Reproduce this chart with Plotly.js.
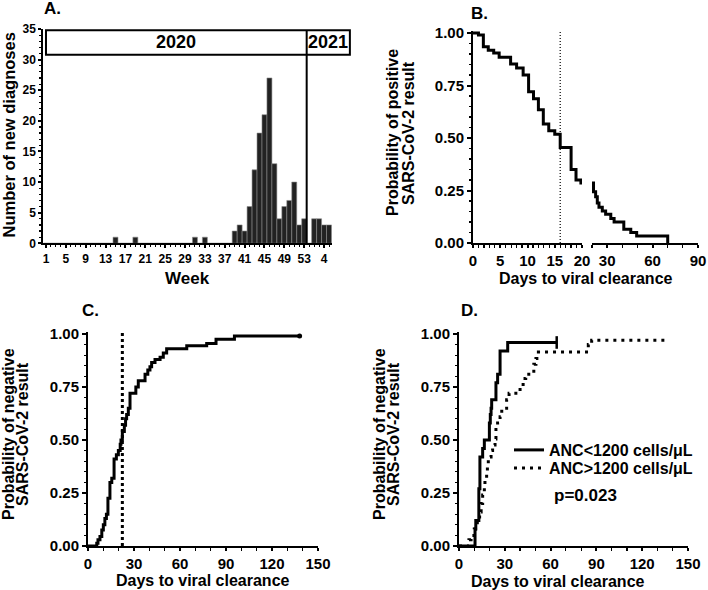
<!DOCTYPE html>
<html><head><meta charset="utf-8">
<script src="https://cdn.plot.ly/plotly-3.0.1.min.js"></script>
<style>html,body{margin:0;padding:0;background:#fff}#chart{width:708px;height:590px}</style>
</head><body><div id="chart"></div>
<script>
// ---------- Panel A: weekly new diagnoses ----------
const weekPos = [1,2,3,4,5,6,7,8,9,10,11,12,13,14,15,16,17,18,19,20,21,22,23,24,25,26,27,28,29,30,31,32,33,34,35,36,37,38,39,40,41,42,43,44,45,46,47,48,49,50,51,52,53,54,55,56,57,58];
const weekCounts = [0,0,0,0,0,0,0,0,0,0,0,0,0,0,1,0,0,0,1,0,0,0,0,0,0,0,0,0,0,0,1,0,1,0,0,0,0,0,2,3,2,6,12,18,21,27,13,4,6,7,10,3,4,0,4,4,3,3];
const weekTickPos = [1,5,9,13,17,21,25,29,33,37,41,45,49,53,57];
const weekTickText = ['1','5','9','13','17','21','25','29','33','37','41','45','49','53','4'];
const yearLabels = ['2020','2021'];
const yearBreak = 53.5;

// ---------- Panel B: probability of positive result ----------
const daysB = [0,1.0,1.9,2.8,3.8,4.8,6.9,8.0,9.2,10.2,11.1,12.0,12.9,13.9,15.0,16.0,18.0,18.9,19.8,21,22.4,23.5,24.6,26.8,29,32.4,34.6,41,45.6,49.5,70];
const probPosB = [1.00,0.99,0.935,0.918,0.905,0.885,0.852,0.833,0.80,0.72,0.687,0.635,0.567,0.535,0.518,0.455,0.35,0.30,0.286,0.244,0.22,0.19,0.17,0.152,0.137,0.117,0.10,0.065,0.05,0.033,0];
const medianB = 16;
const breakB = 20;

// ---------- Panel C: probability of negative result ----------
const daysC = [0,5.7,6.5,7.8,9,10,11,12,13,14.3,15.5,17,18.5,19.8,21,21.5,22.4,23.7,24.5,25.2,26.3,27.4,31.2,32.8,37.2,39,40.4,41.5,43.7,47,49.1,51.3,64.4,77.4,83.5,95.5,138];
const probNegC = [0,0.013,0.03,0.045,0.075,0.10,0.13,0.15,0.225,0.30,0.32,0.41,0.43,0.45,0.48,0.50,0.54,0.57,0.60,0.62,0.65,0.72,0.75,0.78,0.81,0.83,0.845,0.865,0.88,0.89,0.91,0.93,0.945,0.955,0.975,0.99,0.99];
const medianC = 22.4;
const censorC = [138];
const censorCval = [0.99];

// ---------- Panel D: by ANC ----------
const groupNames = ['ANC<1200 cells/\u03bcL','ANC>1200 cells/\u03bcL'];
const daysD1 = [0,10.5,11,13,13.7,15.5,16.6,19.9,20.5,21,21.4,24.2,25.3,26.9,31.9,64];
const probNegD1 = [0,0.08,0.12,0.27,0.42,0.46,0.50,0.58,0.62,0.65,0.69,0.77,0.81,0.92,0.96,0.96];
const daysD2 = [0,6.5,7.9,10,12,13.5,14.5,15.5,16.6,17,18.1,18.6,19.2,21,22,23.6,24.2,25.3,26.9,28,31.2,32.8,40,42,43.7,49,50.4,52,84.7,86.9,137];
const probNegD2 = [0,0.03,0.05,0.08,0.12,0.16,0.20,0.24,0.275,0.32,0.355,0.39,0.42,0.45,0.476,0.505,0.55,0.58,0.61,0.65,0.69,0.72,0.75,0.79,0.81,0.857,0.885,0.915,0.95,0.97,0.97];
const censorD1 = [64];
const censorD1val = [0.96];
const pValueText = 'p=0.023';

// ---------- layout helpers ----------
const W = 708, H = 590;
const px = x => x / W;
const py = y => 1 - y / H;
const FONT = 'Liberation Sans, Arial, Helvetica, sans-serif';
const bold = (s, extra) => Object.assign({family: FONT, size: s, color: '#000', weight: 'bold'}, extra || {});

const domAx = [px(43.3), px(332)], domAy = [py(243.3), py(29)];
const rangeAx = [0.46, 58.6], rangeAy = [0, 35];
const aX = v => domAx[0] + (v - rangeAx[0]) / (rangeAx[1] - rangeAx[0]) * (domAx[1] - domAx[0]);
const aY = v => domAy[0] + (v - rangeAy[0]) / (rangeAy[1] - rangeAy[0]) * (domAy[1] - domAy[0]);

function splitAt(xs, ys, cut) {
  const s1x = [], s1y = [], s2x = [], s2y = [];
  let last = ys[0];
  for (let i = 0; i < xs.length; i++) {
    if (xs[i] <= cut) { s1x.push(xs[i]); s1y.push(ys[i]); last = ys[i]; }
  }
  s1x.push(cut); s1y.push(last);
  s2x.push(cut); s2y.push(last);
  for (let i = 0; i < xs.length; i++) {
    if (xs[i] > cut) { s2x.push(xs[i]); s2y.push(ys[i]); }
  }
  return [s1x, s1y, s2x, s2y];
}
const [b1x, b1y, b2x, b2y] = splitAt(daysB, probPosB, breakB);

const lineK = {color: '#000', width: 3, shape: 'hv'};

const traces = [
  {type: 'bar', x: weekPos, y: weekCounts, width: 1, xaxis: 'x', yaxis: 'y',
   marker: {color: '#222', line: {color: '#8a8a8a', width: 0.6}}, showlegend: false, hoverinfo: 'skip'},
  {type: 'scatter', mode: 'lines', x: b1x, y: b1y, xaxis: 'x2', yaxis: 'y2', line: lineK, showlegend: false},
  {type: 'scatter', mode: 'lines', x: b2x, y: b2y, xaxis: 'x3', yaxis: 'y2', line: lineK, showlegend: false},
  {type: 'scatter', mode: 'lines', x: [medianB, medianB], y: [0, 1.01], xaxis: 'x2', yaxis: 'y2',
   line: {color: '#000', width: 1.2, dash: '1px,2px'}, showlegend: false},
  {type: 'scatter', mode: 'lines', x: daysC, y: probNegC, xaxis: 'x4', yaxis: 'y4', line: lineK, showlegend: false},
  {type: 'scatter', mode: 'markers', x: censorC, y: censorCval, xaxis: 'x4', yaxis: 'y4',
   marker: {symbol: 'circle', size: 5, color: '#000'}, showlegend: false},
  {type: 'scatter', mode: 'lines', x: [medianC, medianC], y: [0, 1.01], xaxis: 'x4', yaxis: 'y4',
   line: {color: '#000', width: 3, dash: '3px,3px'}, showlegend: false},
  {type: 'scatter', mode: 'lines', name: groupNames[0], x: daysD1, y: probNegD1, xaxis: 'x5', yaxis: 'y5',
   line: lineK, showlegend: true, legend: 'legend'},
  {type: 'scatter', mode: 'lines', name: groupNames[1], x: daysD2, y: probNegD2, xaxis: 'x5', yaxis: 'y5',
   line: {color: '#000', width: 3, shape: 'hv', dash: '3px,5px'}, showlegend: true, legend: 'legend2'},
  {type: 'scatter', mode: 'markers', x: censorD1, y: censorD1val, xaxis: 'x5', yaxis: 'y5',
   marker: {symbol: 'line-ns-open', size: 9, color: '#000', line: {color: '#000', width: 2.5}}, showlegend: false}
];

const axBase = {showline: true, linecolor: '#000', linewidth: 2, ticks: 'outside', ticklen: 4, tickwidth: 2,
  tickcolor: '#000', showgrid: false, zeroline: false, fixedrange: true};
const minorB = (d, t0) => ({dtick: d, tick0: t0 || 0, ticklen: 2.5, tickwidth: 1.2, tickcolor: '#000', showgrid: false});
const probY = (dom, anchor) => Object.assign({}, axBase, {domain: dom, anchor: anchor, range: [0, 1.01],
  tickmode: 'array', tickvals: [0, 0.25, 0.5, 0.75, 1], ticktext: ['0.00','0.25','0.50','0.75','1.00'],
  tickfont: bold(15), minor: minorB(0.05)});

const layout = {
  width: W, height: H, margin: {l: 0, r: 0, t: 0, b: 0, pad: 0},
  paper_bgcolor: '#fff', plot_bgcolor: 'rgba(0,0,0,0)',
  font: bold(14), showlegend: true, bargap: 0,
  xaxis: Object.assign({}, axBase, {domain: domAx, anchor: 'y', range: rangeAx, tickmode: 'array',
    tickvals: weekTickPos, ticktext: weekTickText, tickfont: bold(12), ticklen: 3,
    minor: {tickmode: 'linear', tick0: 1, dtick: 1, ticklen: 1.5, tickwidth: 1, tickcolor: '#000'}}),
  yaxis: Object.assign({}, axBase, {domain: domAy, anchor: 'x', range: rangeAy, dtick: 5, tick0: 0,
    tickfont: bold(12), ticklen: 3, minor: minorB(1)}),
  xaxis2: Object.assign({}, axBase, {domain: [px(473), px(582)], anchor: 'y2', range: [0, breakB],
    tickmode: 'array', tickvals: [0, 5, 10, 15, 20], tickfont: bold(15), ticklen: 3, minor: minorB(1)}),
  xaxis3: Object.assign({}, axBase, {domain: [px(592), px(698)], anchor: 'y2', range: [breakB, 90],
    tickmode: 'array', tickvals: [30, 60, 90], tickfont: bold(15), ticklen: 3, minor: minorB(10, 20)}),
  yaxis2: probY([py(243), py(243 - 1.01 * 210)], 'x2'),
  xaxis4: Object.assign({}, axBase, {domain: [px(88), px(318)], anchor: 'y4', range: [0, 150],
    dtick: 30, tick0: 0, tickfont: bold(15), ticklen: 3, minor: minorB(10)}),
  yaxis4: probY([py(546), py(546 - 1.01 * 212)], 'x4'),
  xaxis5: Object.assign({}, axBase, {domain: [px(459), px(688)], anchor: 'y5', range: [0, 150],
    dtick: 30, tick0: 0, tickfont: bold(15), ticklen: 3, minor: minorB(10)}),
  yaxis5: probY([py(546), py(546 - 1.01 * 212)], 'x5'),
  legend: {x: px(509), y: py(450), xanchor: 'left', yanchor: 'middle', bgcolor: 'rgba(0,0,0,0)',
    font: bold(16), itemwidth: 30, borderwidth: 0},
  legend2: {x: px(509), y: py(468), xanchor: 'left', yanchor: 'middle', bgcolor: 'rgba(0,0,0,0)',
    font: bold(16), itemwidth: 30, borderwidth: 0},
  shapes: [
    {type: 'rect', xref: 'paper', yref: 'paper', x0: aX(1), x1: aX(62.2), y0: aY(30.8), y1: aY(34.8),
     line: {color: '#000', width: 2}, fillcolor: 'rgba(0,0,0,0)'},
    {type: 'line', xref: 'x', yref: 'y', x0: yearBreak, x1: yearBreak, y0: 0, y1: 34.8,
     line: {color: '#000', width: 2}}
  ],
  annotations: []
};

const ann = layout.annotations;
const addText = (text, x, y, size, opts) => ann.push(Object.assign({text: text, xref: 'paper', yref: 'paper',
  x: px(x), y: py(y), showarrow: false, font: bold(size), xanchor: 'center', yanchor: 'middle'}, opts || {}));

// year labels inside the box (data coordinates of panel A)
ann.push({text: yearLabels[0], xref: 'x', yref: 'y', x: (1 + yearBreak) / 2, y: 32.8, showarrow: false, font: bold(18)});
ann.push({text: yearLabels[1], xref: 'x', yref: 'y', x: (yearBreak + 62.2) / 2, y: 32.8, showarrow: false, font: bold(18)});

// panel letters
addText('A.', 42, 9, 17, {xanchor: 'left'});
addText('B.', 469, 14, 17, {xanchor: 'left'});
addText('C.', 80, 310, 17, {xanchor: 'left'});
addText('D.', 459, 310, 17, {xanchor: 'left'});

// axis titles
addText('Number of new diagnoses', 8.5, 135, 16.5, {textangle: -90});
addText('Week', 187, 278, 17);
addText('Probability of positive', 392, 133, 16, {textangle: -90});
addText('SARS-CoV-2 result', 408, 133, 16, {textangle: -90});
addText('Days to viral clearance', 586, 278, 16);
addText('Probability of negative', 9, 434, 16, {textangle: -90});
addText('SARS-CoV-2 result', 23, 434, 16, {textangle: -90});
addText('Days to viral clearance', 203, 580, 16);
addText('Probability of negative', 380, 434, 16, {textangle: -90});
addText('SARS-CoV-2 result', 394, 434, 16, {textangle: -90});
addText('Days to viral clearance', 558, 581, 16);
addText(pValueText, 552, 495, 17, {xanchor: 'left'});

Plotly.newPlot('chart', traces, layout, {displayModeBar: false, staticPlot: true});
</script></body></html>
